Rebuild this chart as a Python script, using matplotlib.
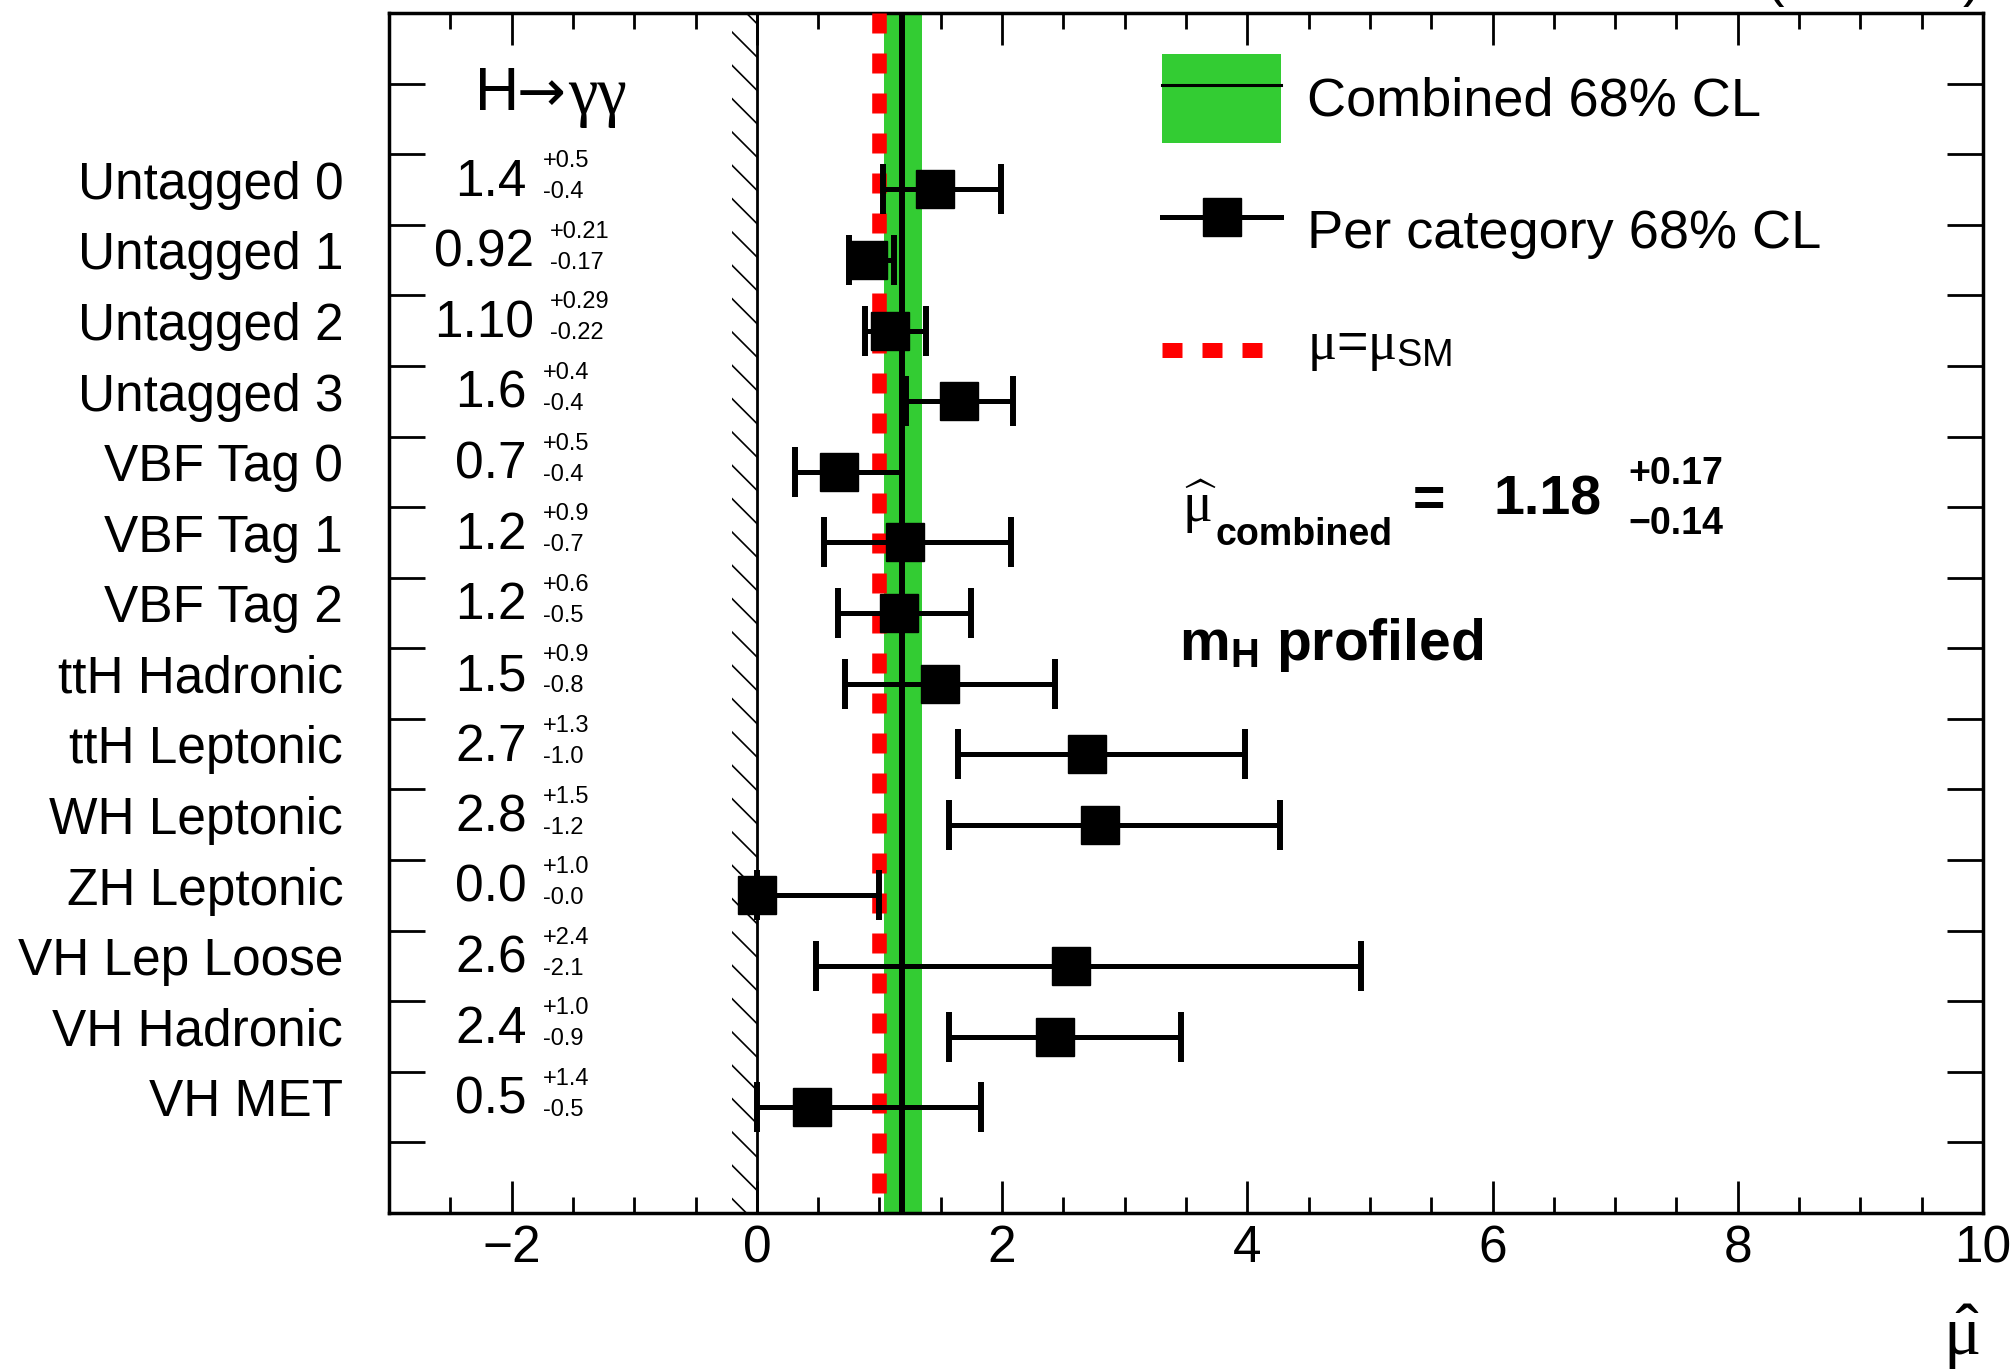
import numpy as np
import matplotlib
matplotlib.use('Agg')
import matplotlib.pyplot as plt
from matplotlib.ticker import MultipleLocator
from matplotlib.patches import Patch
from matplotlib.lines import Line2D
from matplotlib.legend_handler import HandlerTuple
from matplotlib.transforms import ScaledTranslation

plt.rcParams['font.family'] = ['Liberation Sans', 'DejaVu Sans']
plt.rcParams['mathtext.fontset'] = 'custom'
plt.rcParams['mathtext.rm'] = 'Liberation Sans'
plt.rcParams['mathtext.sf'] = 'Liberation Sans'
plt.rcParams['mathtext.it'] = 'Liberation Serif'
plt.rcParams['mathtext.bf'] = 'Liberation Sans:bold'
plt.rcParams['lines.scale_dashes'] = False
plt.rcParams['hatch.linewidth'] = 1.2

# categories, top to bottom
cats = ['Untagged 0', 'Untagged 1', 'Untagged 2', 'Untagged 3',
        'VBF Tag 0', 'VBF Tag 1', 'VBF Tag 2',
        'ttH Hadronic', 'ttH Leptonic', 'WH Leptonic', 'ZH Leptonic',
        'VH Lep Loose', 'VH Hadronic', 'VH MET']
# best fit and 68% CL interval per category
mu_fit = [1.45, 0.91, 1.09, 1.65, 0.67, 1.21, 1.16, 1.49, 2.69, 2.80, 0.00, 2.56, 2.43, 0.45]
mu_lo  = [1.03, 0.75, 0.88, 1.22, 0.31, 0.55, 0.66, 0.72, 1.64, 1.57, 0.00, 0.48, 1.57, 0.00]
mu_hi  = [1.99, 1.12, 1.38, 2.09, 1.18, 2.07, 1.75, 2.43, 3.98, 4.27, 1.00, 4.93, 3.46, 1.83]
# printed values
val_txt = ['1.4', '0.92', '1.10', '1.6', '0.7', '1.2', '1.2', '1.5', '2.7', '2.8', '0.0', '2.6', '2.4', '0.5']
up_txt  = ['+0.5', '+0.21', '+0.29', '+0.4', '+0.5', '+0.9', '+0.6', '+0.9', '+1.3', '+1.5', '+1.0', '+2.4', '+1.0', '+1.4']
dn_txt  = ['-0.4', '-0.17', '-0.22', '-0.4', '-0.4', '-0.7', '-0.5', '-0.8', '-1.0', '-1.2', '-0.0', '-2.1', '-0.9', '-0.5']

# combined result
comb_mu = 1.18
comb_up = 0.17
comb_dn = 0.14
mu_sm = 1.0

green = '#33cc33'

fig = plt.figure(figsize=(20.15, 13.7), dpi=100)
ax = fig.add_axes([389/2015, 1-1213/1370, (1983-389)/2015, 1200/1370])

n = len(cats)
ypos = np.arange(n)[::-1] + 1.5
mu_fit = np.array(mu_fit)
xerr = [mu_fit - np.array(mu_lo), np.array(mu_hi) - mu_fit]

# hatched region for mu < 0
ax.axvspan(-0.2, 0, facecolor='none', edgecolor='k', hatch='\\', lw=0, zorder=1)
ax.axvline(0, color='k', lw=2, zorder=1)

# combined band + line, SM line
ax.axvspan(comb_mu - comb_dn, comb_mu + comb_up, color=green, lw=0, zorder=2)
ax.plot([mu_sm, mu_sm], [17, 0], color='red', lw=10.5, ls=(0, (14.4, 14.4)),
        solid_capstyle='butt', zorder=3)
ax.axvline(comb_mu, color='k', lw=4.3, zorder=4)

# per category points
ax.errorbar(mu_fit, ypos, xerr=xerr, fmt='s', color='k', ms=27,
            elinewidth=3.6, capsize=18, capthick=4.3, zorder=5)

# value annotations
for i in range(n):
    xr = -1.82 if len(val_txt[i]) > 3 else -1.875
    ax.text(xr, ypos[i] + 0.1, val_txt[i], ha='right', va='center', fontsize=37)
    ax.text(xr + 0.13, ypos[i] + 0.4, up_txt[i], ha='left', va='center', fontsize=17)
    ax.text(xr + 0.13, ypos[i] - 0.04, dn_txt[i], ha='left', va='center', fontsize=17)

ax.text(-2.30, 15.85, 'H', ha='left', va='center', fontsize=44)
ax.text(-1.96, 15.85, '\u2192', ha='left', va='center', fontsize=42, family='DejaVu Sans')
ax.text(-1.54, 15.8, '\u03b3\u03b3', ha='left', va='center', fontsize=48,
        family=['Liberation Serif', 'DejaVu Serif'])

# combined text
ax.text(3.47, 10.0, r'$\widehat{\mu}$', ha='left', va='center', fontsize=40)
ax.text(3.74, 9.6, 'combined', ha='left', va='center', fontsize=27, fontweight='bold')
ax.text(5.35, 10.07, '=', ha='left', va='center', fontsize=40, fontweight='bold')
ax.text(6.01, 10.1, '%.2f' % comb_mu, ha='left', va='center', fontsize=40, fontweight='bold')
ax.text(7.11, 10.47, '+%.2f' % comb_up, ha='left', va='center', fontsize=27, fontweight='bold')
ax.text(7.11, 9.76, '\u2212%.2f' % comb_dn, ha='left', va='center', fontsize=27, fontweight='bold')
ax.text(3.44, 8.05, r'$\mathbf{m}_\mathbf{H}$ profiled', ha='left', va='center',
        fontsize=41, fontweight='bold')

# axes setup
ax.set_xlim(-3, 10)
ax.set_ylim(0, 17)
ax.set_xticks(np.arange(-2, 11, 2))
ax.xaxis.set_minor_locator(MultipleLocator(0.5))
ax.tick_params(axis='x', which='major', direction='in', length=23, width=2,
               top=True, labelsize=37, pad=8)
ax.tick_params(axis='x', which='minor', direction='in', length=11.5, width=2, top=True)
ax.set_yticks(np.arange(1, 17), labels=[])
ax.set_yticks(ypos, labels=cats, minor=True)
ax.tick_params(axis='y', which='major', direction='in', length=26, width=2,
               left=True, right=True)
ax.tick_params(axis='y', which='minor', length=0, pad=33, labelsize=37)
shift = ScaledTranslation(0, 7/72, fig.dpi_scale_trans)
for lab in ax.get_yticklabels(minor=True):
    lab.set_transform(lab.get_transform() + shift)
for s in ax.spines.values():
    s.set_linewidth(2.5)

# legend
h1 = (Patch(facecolor=green, edgecolor='none'), Line2D([], [], color='k', lw=2.2))
h2 = Line2D([], [], color='k', lw=3.6, marker='s', ms=28)
h3 = Line2D([], [], color='red', lw=10.8, ls=(0, (14.4, 14.4)))
leg = ax.legend([h1, h2, h3], ['Combined 68% CL', 'Per category 68% CL', r'$\mu$=$\mu_{\rm SM}$'],
                handler_map={tuple: HandlerTuple(ndivide=1, pad=0)},
                loc='upper left', bbox_to_anchor=(0.485, 0.966), borderaxespad=0,
                borderpad=0, frameon=False, fontsize=39, handlelength=2.2,
                handleheight=2.16, handletextpad=0.48, labelspacing=0.8)
sm_txt = leg.get_texts()[2]
sm_txt.set_transform(sm_txt.get_transform() + ScaledTranslation(0, 16/72, fig.dpi_scale_trans))

# axis title
fig.text(1980/2015, 0.011, r'$\hat{\mu}$', ha='right', va='baseline', fontsize=50)
fig.text(1980/2015, 1.003, r'35.9 fb$^{-1}$ (13 TeV)', ha='right', va='baseline', fontsize=40)

fig.savefig('out.png', dpi=100)
